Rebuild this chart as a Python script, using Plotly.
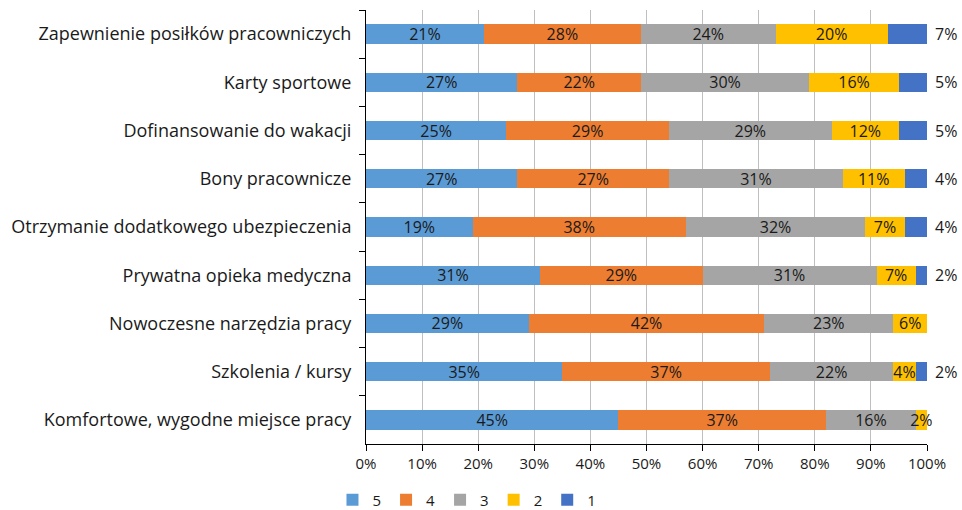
import plotly.graph_objects as go

categories = [
    "Zapewnienie posiłków pracowniczych",
    "Karty sportowe",
    "Dofinansowanie do wakacji",
    "Bony pracownicze",
    "Otrzymanie dodatkowego ubezpieczenia",
    "Prywatna opieka medyczna",
    "Nowoczesne narzędzia pracy",
    "Szkolenia / kursy",
    "Komfortowe, wygodne miejsce pracy",
]
s5 = [21, 27, 25, 27, 19, 31, 29, 35, 45]
s4 = [28, 22, 29, 27, 38, 29, 42, 37, 37]
s3 = [24, 30, 29, 31, 32, 31, 23, 22, 16]
s2 = [20, 16, 12, 11, 7, 7, 6, 4, 2]
s1 = [7, 5, 5, 4, 4, 2, 0, 2, 0]

series = [("5", s5, "#5B9BD5"), ("4", s4, "#ED7D31"), ("3", s3, "#A5A5A5"),
          ("2", s2, "#FFC000"), ("1", s1, "#4472C4")]
x_ticks = list(range(0, 101, 10))

FONT = "Open Sans, sans-serif"
fig = go.Figure()
for name, vals, color in series:
    inside = name != "1"
    texts = [f"{v}%" if (v > 0 and inside) else "" for v in vals]
    fig.add_trace(go.Bar(
        y=categories, x=vals, name=name, orientation="h",
        marker=dict(color=color, line=dict(width=0)),
        text=texts, textposition="inside", insidetextanchor="middle",
        constraintext="none", textangle=0, cliponaxis=False,
        textfont=dict(family=FONT, size=16, color="#1a1a1a"),
        hoverinfo="skip",
    ))

totals = [a + b + c + d + e for a, b, c, d, e in zip(s5, s4, s3, s2, s1)]
for cat, v, t in zip(categories, s1, totals):
    if v > 0:
        fig.add_annotation(x=t, y=cat, text=f"{v}%", showarrow=False,
                           xanchor="left", xshift=6,
                           font=dict(family=FONT, size=16, color="#1a1a1a"))

fig.update_layout(
    barmode="stack", bargap=0.6,
    width=962, height=510,
    margin=dict(l=366, r=35, t=10, b=66, autoexpand=False),
    paper_bgcolor="white", plot_bgcolor="white",
    font=dict(family=FONT, size=15, color="#1a1a1a"),
    showlegend=True,
    legend=dict(orientation="h", x=0.18, xanchor="center", y=-0.129, yanchor="middle",
                font=dict(family=FONT, size=15), traceorder="normal",
                itemwidth=30),
)
fig.update_xaxes(range=[0, 100], tickvals=x_ticks, ticktext=[f"{v}%" for v in x_ticks],
                 showgrid=True, gridcolor="#BFBFBF", gridwidth=1,
                 showline=True, linecolor="#000000", linewidth=1,
                 ticks="outside", ticklen=6, tickcolor="#000000",
                 zeroline=False, tickfont=dict(family=FONT, size=15))
fig.update_yaxes(autorange="reversed", showline=True, linecolor="#000000", linewidth=1,
                 ticks="outside", ticklen=6, tickcolor="#000000", tickson="boundaries",
                 showgrid=False, ticklabelstandoff=10,
                 tickfont=dict(family=FONT, size=18))

fig.write_html("out.html")
